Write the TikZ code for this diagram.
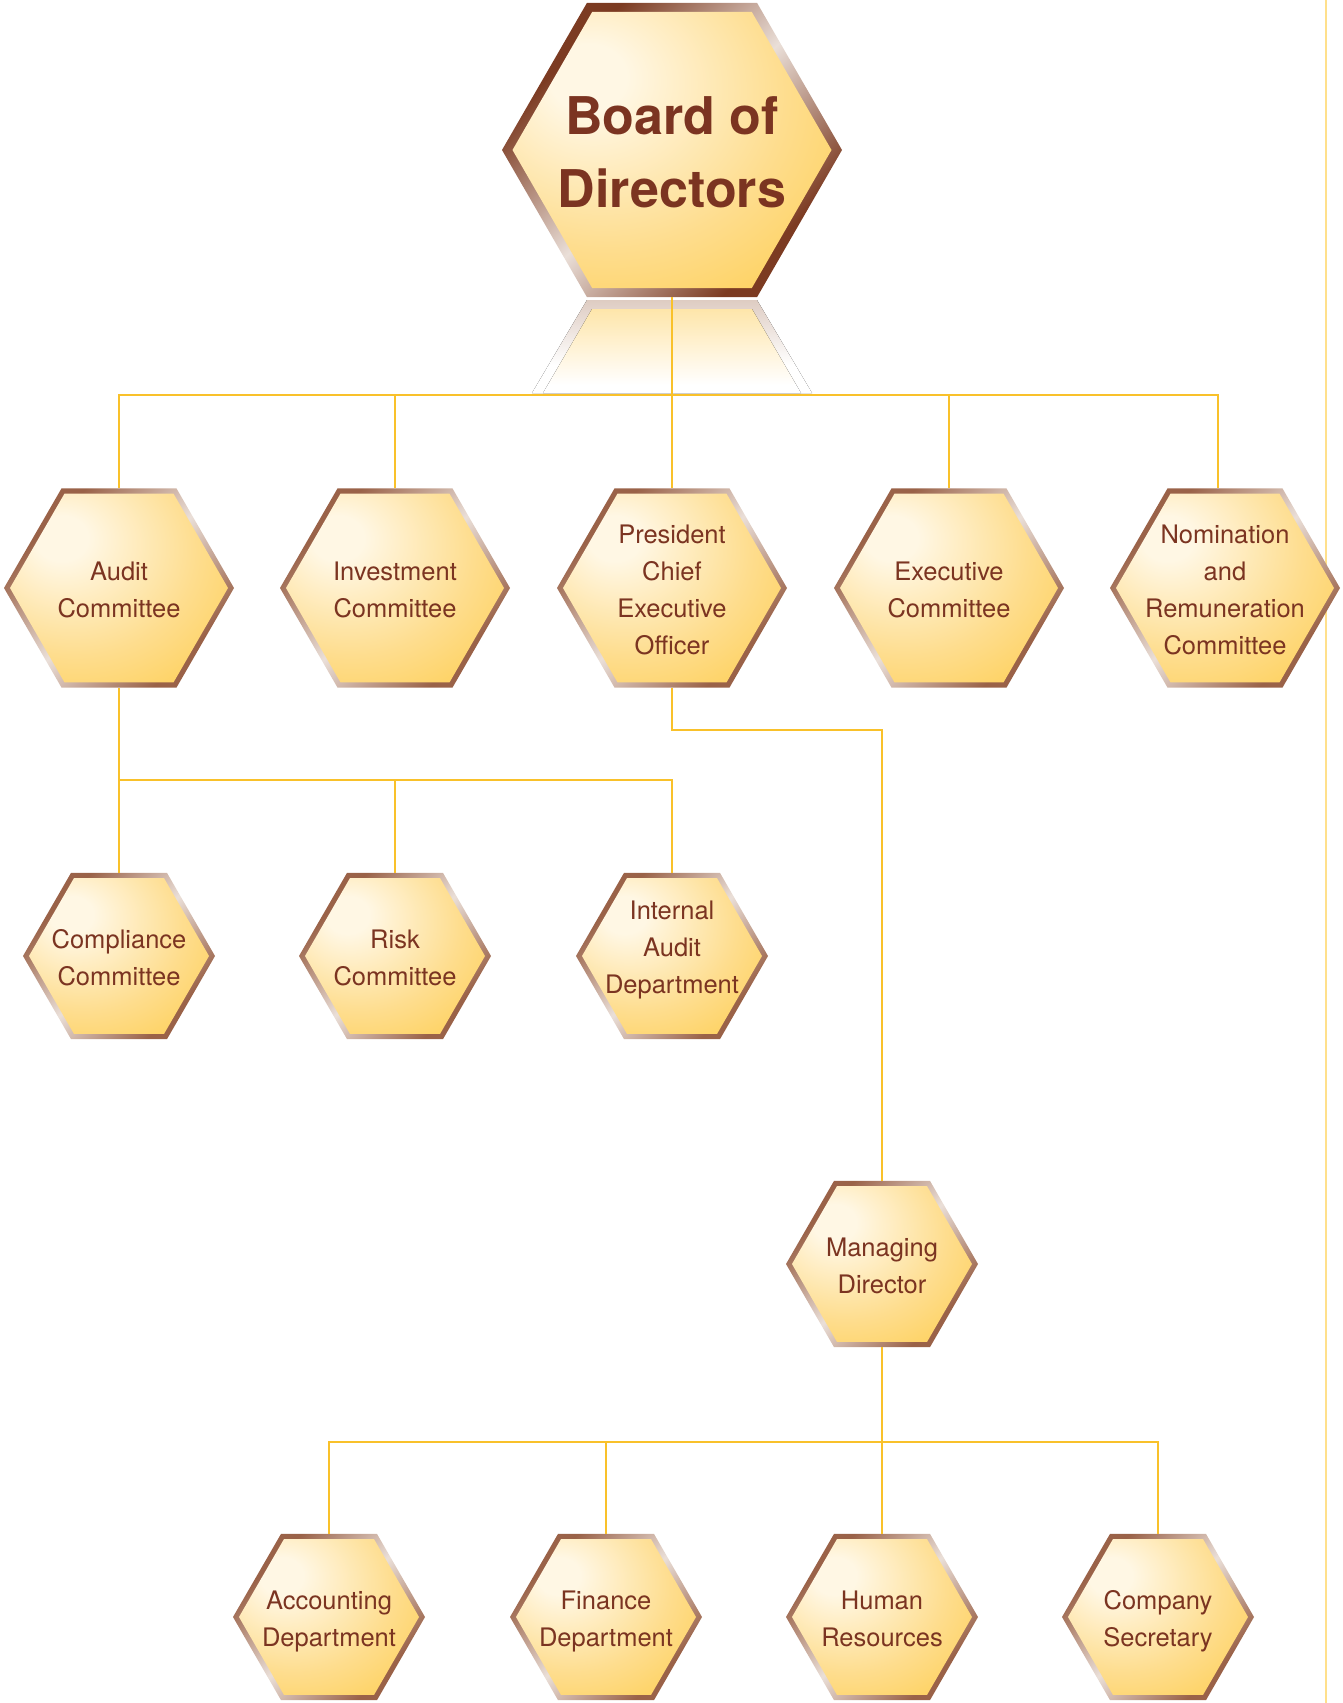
\documentclass[tikz,border=0pt]{standalone}
\usepackage{fontspec}
\setmainfont{TeX Gyre Heros}
\usetikzlibrary{shapes.geometric}
\definecolor{hex-text}{HTML}{7B3421}
\definecolor{rim-dark}{HTML}{9A6248}
\definecolor{rim-board}{HTML}{7C3B22}
\definecolor{rim-light}{HTML}{EADFD8}
\definecolor{glow-light}{HTML}{FFF7E4}
\definecolor{glow-mid}{HTML}{FEDD8E}
\definecolor{glow-gold}{HTML}{FDC631}
\definecolor{link-gold}{HTML}{F9C12A}
\definecolor{side-gold}{HTML}{FFE08C}

\pgfdeclareverticalshading{rimshade}{100bp}{color(0bp)=(rim-dark); color(28bp)=(rim-dark); color(50bp)=(rim-light); color(72bp)=(rim-dark); color(100bp)=(rim-dark)}
\pgfdeclareverticalshading{boardshade}{100bp}{color(0bp)=(rim-board); color(28bp)=(rim-board); color(50bp)=(rim-light); color(72bp)=(rim-board); color(100bp)=(rim-board)}
\pgfdeclareradialshading{hexglow}{\pgfpoint{-14bp}{14bp}}{color(0bp)=(glow-light); color(6bp)=(glow-light); color(28bp)=(glow-mid); color(55bp)=(glow-gold); color(100bp)=(glow-gold)}
\pgfdeclareverticalshading{mirrorrim}{100bp}{color(0bp)=(white); color(40bp)=(white); color(75bp)=(rim-light!85!rim-dark); color(100bp)=(rim-light!85!rim-dark)}
\pgfdeclareverticalshading{mirrorglow}{100bp}{color(0bp)=(white); color(30bp)=(white); color(75bp)=(glow-mid!75); color(100bp)=(glow-mid!75)}

\tikzset{
  hexshape/.style={regular polygon, regular polygon sides=6, inner sep=0pt, outer sep=0pt, draw=none},
  hexrim/.style={hexshape, shading=rimshade, shading angle=45},
  boardrim/.style={hexshape, shading=boardshade, shading angle=45},
  hexcore/.style={hexshape, shading=hexglow},
  hexlabel/.style={text=hex-text, align=center, font=\fontsize{25.5}{37}\selectfont},
  link/.style={draw=link-gold, line width=2.6pt},
}

% [label options], name, position, circumradius, text
\newcommand{\hexnode}[5][]{%
  \node[hexrim, minimum size=2*#4] (#2) at (#3) {};
  \node[hexcore, minimum size=2*#4-12pt] at (#2) {};
  \node[hexlabel, yshift=-7.5pt, #1] at (#2) {#5\strut};
}

\begin{document}
\begin{tikzpicture}[x=1pt, y=-1pt]
    \useasboundingbox (0,0) rectangle (1343,1703);
    \draw[side-gold, line width=2.4pt] (1326,0) -- (1326,1703);

    % reflection under the board
    \fill[shading=mirrorrim] (587,300) -- (757,300) -- (812,393) -- (532,393) -- cycle;
    \fill[shading=mirrorglow] (592,309) -- (752,309) -- (801,393) -- (543,393) -- cycle;

    % board
    \node[boardrim, minimum size=340pt] (board) at (672,150) {};
    \node[hexcore, minimum size=319pt] at (board) {};
    \node[text=hex-text, align=center, font=\fontsize{52}{73}\selectfont\bfseries] at (672,152) {Board of\\Directors};

    % committees
    \hexnode{audit}{119,588}{115pt}{Audit\\Committee}
    \hexnode{invest}{395,588}{115pt}{Investment\\Committee}
    \hexnode{ceo}{672,588}{115pt}{President\\Chief\\Executive\\Officer}
    \hexnode{exec}{949,588}{115pt}{Executive\\Committee}
    \hexnode{nomin}{1225,588}{115pt}{Nomination\\and\\Remuneration\\Committee}

    \hexnode{compl}{119,956}{96pt}{Compliance\\Committee}
    \hexnode{risk}{395,956}{96pt}{Risk\\Committee}
    \hexnode[yshift=10.5pt]{intaudit}{672,956}{96pt}{Internal\\Audit\\Department}

    \hexnode{md}{882,1264}{96pt}{Managing\\Director}

    \hexnode{acct}{329,1617}{96pt}{Accounting\\Department}
    \hexnode{fin}{606,1617}{96pt}{Finance\\Department}
    \hexnode{hr}{882,1617}{96pt}{Human\\Resources}
    \hexnode{sec}{1158,1617}{96pt}{Company\\Secretary}

    % connectors
    \coordinate (bus1) at (672,395);
    \coordinate (bus2) at (119,780);
    \coordinate (turn) at (882,730);
    \coordinate (bus3) at (882,1442);

    \draw[link] (board.south) -- (bus1);
    \draw[link] (audit.north) |- (bus1) -| ([xshift=-7pt]nomin.north);
    \foreach \n in {invest,ceo,exec}
        \draw[link] (\n.north) -- (\n.north |- bus1);

    \draw[link] (audit.south) -- (compl.north);
    \draw[link] (bus2) -| (intaudit.north);
    \draw[link] (risk.north) -- (risk.north |- bus2);

    \draw[link] (ceo.south) |- (turn) -- (md.north);

    \draw[link] (md.south) -- (hr.north);
    \draw[link] (acct.north) |- (bus3) -| (sec.north);
    \draw[link] (fin.north) -- (fin.north |- bus3);
\end{tikzpicture}
\end{document}
